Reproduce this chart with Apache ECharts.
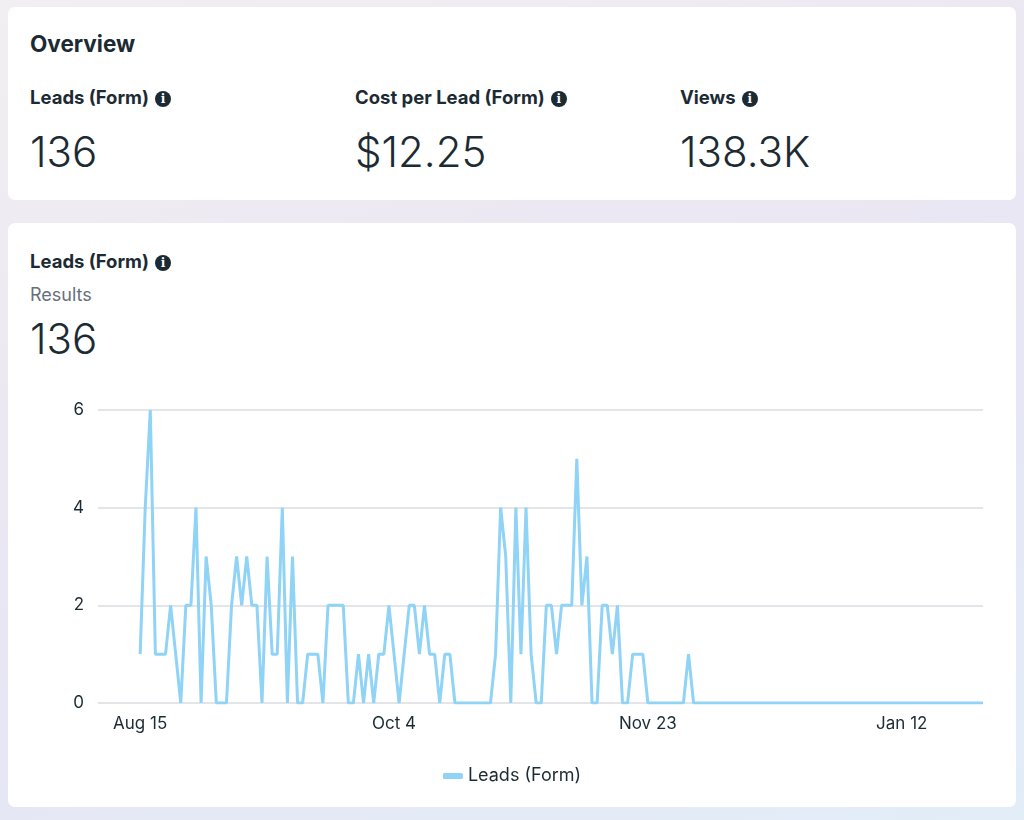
<!DOCTYPE html>
<html>
<head>
<meta charset="utf-8">
<script src="https://cdn.jsdelivr.net/npm/echarts@6/dist/echarts.min.js"></script>
<style>
  html, body { margin: 0; padding: 0; }
  body {
    width: 1024px; height: 820px; position: relative; overflow: hidden;
    font-family: Inter, "Noto Sans", sans-serif; color: #1c2b33;
    background: linear-gradient(160deg, #f1eff2 0%, #ece8f3 35%, #e7e6f4 60%, #e2edf8 100%);
  }
  .card { position: absolute; left: 8px; width: 1008px; background: #fff; border-radius: 7px; }
  .t { position: absolute; white-space: nowrap; line-height: 1; }
  .h { font-size: 18.5px; font-weight: 700; }
  .big { font-size: 42px; font-weight: 300; }
  .info {
    display: inline-block; width: 16px; height: 16px; border-radius: 50%;
    background: #1c2b33; color: #fff; font-size: 12px; font-weight: 700;
    text-align: center; line-height: 16px; vertical-align: 1px; margin-left: 6px;
    font-family: "DejaVu Serif", serif;
  }
  #main { position: absolute; left: 8px; top: 370px; width: 1008px; height: 437px; }
</style>
</head>
<body>
<div class="card" style="top:7px;height:193px;"></div>
<div class="card" style="top:223px;height:584px;"></div>

<div class="t" style="left:30px;top:33px;font-size:22.5px;font-weight:700;">Overview</div>

<div class="t h" style="left:30px;top:88px;">Leads (Form)<span class="info">i</span></div>
<div class="t big" style="left:30px;top:131px;">136</div>

<div class="t h" style="left:355px;top:88px;">Cost per Lead (Form)<span class="info">i</span></div>
<div class="t big" style="left:355px;top:131px;">$12.25</div>

<div class="t h" style="left:680px;top:88px;">Views<span class="info">i</span></div>
<div class="t big" style="left:680px;top:131px;">138.3K</div>

<div class="t h" style="left:30px;top:252px;">Leads (Form)<span class="info">i</span></div>
<div class="t" style="left:30px;top:286px;font-size:18px;color:#67707a;">Results</div>
<div class="t big" style="left:30px;top:318px;">136</div>

<div id="main"></div>

<script>
// daily leads, starting Aug 15
const leads = [
  1, 4, 6, 1, 1, 1, 2, 1, 0, 2, 2, 4, 0, 3, 2, 0, 0, 0,
  2, 3, 2, 3, 2, 2, 0, 3, 1, 1, 4, 0, 3, 0, 0,
  1, 1, 1, 0, 2, 2, 2, 2, 0, 0, 1, 0, 1, 0, 1, 1, 2,
  1, 0, 1, 2, 2, 1, 2, 1, 1, 0, 1, 1, 0,
  0, 0, 0, 0, 0, 0, 0,
  1, 4, 3, 0, 4, 1, 4, 1, 0, 0, 2, 2, 1, 2, 2, 2, 5, 2, 3, 0, 0, 2, 2, 1, 2, 0, 0, 1, 1, 1, 0,
  0, 0, 0, 0, 0, 0, 0,
  1,
  0, 0, 0, 0, 0, 0, 0, 0, 0, 0, 0, 0, 0, 0, 0, 0, 0, 0, 0, 0,
  0, 0, 0, 0, 0, 0, 0, 0, 0, 0, 0, 0, 0, 0, 0, 0, 0, 0, 0, 0,
  0, 0, 0, 0, 0, 0, 0, 0, 0, 0, 0, 0, 0, 0, 0, 0, 0, 0
];
const tickDays = [0, 50, 100, 150];
const tickLabels = ["Aug 15", "Oct 4", "Nov 23", "Jan 12"];
const yTicks = [0, 2, 4, 6];

const chart = echarts.init(document.getElementById("main"));
const points = leads.map((v, i) => [i, v]);

const option = {
  animation: false,
  textStyle: { fontFamily: "Inter, 'Noto Sans', sans-serif" },
  grid: { left: 90, right: 33, top: 40, bottom: 104 },
  legend: {
    data: ["Leads (Form)"],
    left: "center",
    top: 392,
    icon: "roundRect",
    itemWidth: 20,
    itemHeight: 6,
    itemGap: 10,
    textStyle: { fontSize: 18, color: "#1c2b33" },
  },
  xAxis: {
    type: "value",
    min: -8.3,
    max: leads.length - 1,
    axisLine: { show: false },
    axisTick: { show: false },
    splitLine: { show: false },
    axisLabel: {
      customValues: tickDays,
      formatter: (v) => tickLabels[tickDays.indexOf(v)] || "",
      fontSize: 17,
      color: "#1c2b33",
      margin: 12,
    },
  },
  yAxis: {
    type: "value",
    min: 0,
    max: 6,
    interval: 2,
    axisLine: { show: false },
    axisTick: { show: false },
    axisLabel: {
      fontSize: 17,
      color: "#1c2b33",
      margin: 14,
      formatter: (v) => (yTicks.includes(v) ? String(v) : ""),
    },
    splitLine: { lineStyle: { color: "#dadde1", width: 1.5 } },
  },
  series: [
    {
      name: "Leads (Form)",
      type: "line",
      data: points,
      showSymbol: false,
      symbol: "none",
      color: "#8fd3f6",
      lineStyle: { width: 3, color: "#8fd3f6" },
    },
  ],
};

chart.setOption(option);
</script>
</body>
</html>
